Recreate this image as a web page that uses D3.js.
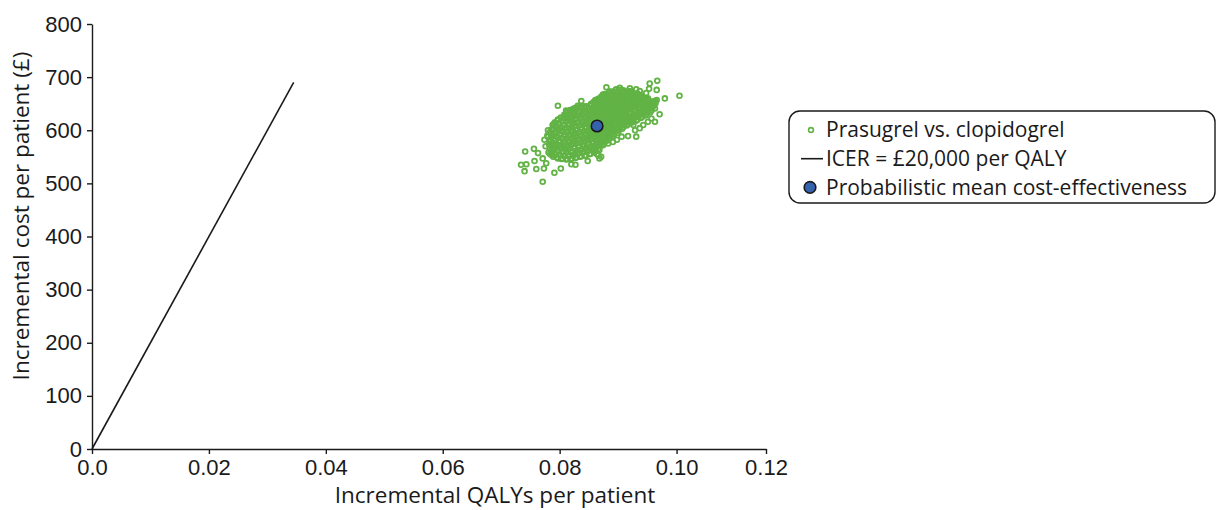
<!DOCTYPE html>
<html>
<head>
<meta charset="utf-8">
<script src="https://cdn.jsdelivr.net/npm/d3@7"></script>
<style>
  html, body { margin: 0; padding: 0; background: #ffffff; }
  svg { display: block; font-family: "Open Sans", "Noto Sans", sans-serif; }
  .axis text { font-size: 22px; fill: #1a1a1a; }
  .axis path, .axis line { stroke: #1a1a1a; stroke-width: 1.4; }
</style>
</head>
<body>
<svg id="chart" width="1217" height="510"></svg>
<script>
// Axis ticks and their labels
const xTicks = [0, 0.02, 0.04, 0.06, 0.08, 0.10, 0.1153];
const xTickLabels = ["0.0", "0.02", "0.04", "0.06", "0.08", "0.10", "0.12"];
const yTicks = [0, 100, 200, 300, 400, 500, 600, 700, 800];

// Willingness-to-pay threshold (£ per QALY) and the QALY range of its line
const wtp = 20000;
const icerQaly = [0, 0.0345];

// Probabilistic mean of the simulations: [incremental QALYs, incremental cost £]
const meanPoint = [0.0864, 608];

// Simulated incremental QALYs and costs, prasugrel vs. clopidogrel
const simulations = [
  [0.0781,558],[0.0783,565],[0.0782,573],[0.0784,579],[0.0780,588],[0.0783,596],
  [0.0787,553],[0.0785,561],[0.0788,566],[0.0786,574],[0.0784,580],[0.0785,587],[0.0787,593],[0.0786,601],
  [0.0789,550],[0.0791,557],[0.0790,563],[0.0792,570],[0.0788,577],[0.0791,582],[0.0789,590],[0.0792,596],[0.0790,603],[0.0788,610],
  [0.0795,549],[0.0793,555],[0.0796,562],[0.0794,569],[0.0792,574],[0.0793,582],[0.0795,588],[0.0794,595],[0.0796,601],[0.0793,608],[0.0792,615],
  [0.0797,547],[0.0799,554],[0.0798,560],[0.0800,567],[0.0796,573],[0.0799,580],[0.0797,586],[0.0800,593],[0.0798,600],[0.0796,606],[0.0799,613],[0.0797,620],
  [0.0803,546],[0.0801,553],[0.0804,559],[0.0802,566],[0.0800,572],[0.0801,579],[0.0803,586],[0.0802,592],[0.0804,598],[0.0801,605],[0.0800,611],[0.0803,618],[0.0802,624],
  [0.0805,547],[0.0807,552],[0.0806,560],[0.0808,565],[0.0804,571],[0.0807,578],[0.0805,584],[0.0808,591],[0.0806,597],[0.0804,604],[0.0807,610],[0.0805,617],[0.0806,623],[0.0808,629],
  [0.0811,545],[0.0809,551],[0.0812,558],[0.0810,564],[0.0808,571],[0.0809,577],[0.0811,584],[0.0810,589],[0.0812,596],[0.0809,603],[0.0808,609],[0.0811,616],[0.0810,622],[0.0809,628],[0.0812,632],
  [0.0813,546],[0.0815,553],[0.0814,559],[0.0816,565],[0.0812,572],[0.0815,578],[0.0813,585],[0.0816,591],[0.0814,598],[0.0812,604],[0.0815,611],[0.0813,617],[0.0814,624],[0.0816,630],[0.0813,635],
  [0.0819,545],[0.0817,552],[0.0820,558],[0.0818,566],[0.0816,571],[0.0817,578],[0.0819,584],[0.0818,590],[0.0820,597],[0.0817,603],[0.0816,610],[0.0819,616],[0.0818,622],[0.0817,629],[0.0820,634],[0.0818,638],
  [0.0821,547],[0.0823,553],[0.0822,560],[0.0824,566],[0.0820,573],[0.0823,579],[0.0821,586],[0.0824,592],[0.0822,599],[0.0820,605],[0.0823,612],[0.0821,618],[0.0822,625],[0.0824,631],[0.0821,637],[0.0823,640],
  [0.0827,548],[0.0825,554],[0.0828,561],[0.0826,567],[0.0824,574],[0.0825,580],[0.0827,587],[0.0826,594],[0.0828,600],[0.0825,607],[0.0824,613],[0.0827,620],[0.0826,626],[0.0825,633],[0.0828,639],[0.0826,642],
  [0.0829,549],[0.0831,556],[0.0830,562],[0.0832,569],[0.0828,575],[0.0831,582],[0.0829,588],[0.0832,595],[0.0830,601],[0.0828,608],[0.0831,614],[0.0829,621],[0.0830,627],[0.0832,634],[0.0829,640],[0.0831,643],
  [0.0835,550],[0.0833,557],[0.0836,563],[0.0834,570],[0.0832,576],[0.0833,583],[0.0835,589],[0.0834,596],[0.0836,602],[0.0833,609],[0.0832,615],[0.0835,622],[0.0834,628],[0.0833,635],[0.0836,641],
  [0.0837,551],[0.0839,558],[0.0838,564],[0.0840,571],[0.0836,577],[0.0839,584],[0.0837,590],[0.0840,597],[0.0838,603],[0.0836,610],[0.0839,616],[0.0837,623],[0.0838,629],[0.0840,636],[0.0837,642],[0.0839,645],
  [0.0843,552],[0.0841,559],[0.0844,566],[0.0842,572],[0.0840,579],[0.0841,585],[0.0843,592],[0.0842,598],[0.0844,605],[0.0841,611],[0.0840,618],[0.0843,624],[0.0842,631],[0.0841,637],[0.0844,644],
  [0.0845,553],[0.0847,560],[0.0846,567],[0.0848,573],[0.0844,580],[0.0847,586],[0.0845,593],[0.0848,599],[0.0846,606],[0.0844,612],[0.0847,619],[0.0845,625],[0.0846,632],[0.0848,638],[0.0845,645],
  [0.0851,555],[0.0849,562],[0.0852,568],[0.0850,575],[0.0848,581],[0.0849,588],[0.0851,594],[0.0850,601],[0.0852,607],[0.0849,614],[0.0848,620],[0.0851,627],[0.0850,633],[0.0849,640],[0.0852,646],
  [0.0853,556],[0.0855,563],[0.0854,570],[0.0856,576],[0.0852,583],[0.0855,589],[0.0853,596],[0.0856,602],[0.0854,609],[0.0852,615],[0.0855,622],[0.0853,628],[0.0854,635],[0.0856,641],[0.0853,648],
  [0.0859,558],[0.0857,565],[0.0860,571],[0.0858,578],[0.0856,584],[0.0857,591],[0.0859,597],[0.0858,604],[0.0860,610],[0.0857,617],[0.0856,623],[0.0859,630],[0.0858,636],[0.0857,643],[0.0860,649],[0.0858,653],
  [0.0861,561],[0.0863,568],[0.0862,574],[0.0864,581],[0.0860,587],[0.0863,594],[0.0861,600],[0.0864,607],[0.0862,613],[0.0860,620],[0.0863,626],[0.0861,633],[0.0862,639],[0.0864,646],[0.0861,652],[0.0863,656],
  [0.0867,565],[0.0865,571],[0.0868,578],[0.0866,584],[0.0864,591],[0.0865,597],[0.0867,604],[0.0866,610],[0.0868,617],[0.0865,623],[0.0864,630],[0.0867,636],[0.0866,643],[0.0865,649],[0.0868,655],[0.0866,659],
  [0.0869,570],[0.0871,576],[0.0870,583],[0.0872,589],[0.0868,596],[0.0871,602],[0.0869,609],[0.0872,615],[0.0870,622],[0.0868,628],[0.0871,635],[0.0869,641],[0.0870,648],[0.0872,654],[0.0869,660],[0.0871,663],
  [0.0875,573],[0.0873,580],[0.0876,586],[0.0874,593],[0.0872,599],[0.0873,606],[0.0875,612],[0.0874,619],[0.0876,625],[0.0873,632],[0.0872,638],[0.0875,645],[0.0874,651],[0.0873,658],[0.0876,664],
  [0.0877,577],[0.0879,583],[0.0878,590],[0.0880,596],[0.0876,603],[0.0879,609],[0.0877,616],[0.0880,622],[0.0878,629],[0.0876,635],[0.0879,642],[0.0877,648],[0.0878,655],[0.0880,661],[0.0877,668],
  [0.0883,581],[0.0881,587],[0.0884,594],[0.0882,600],[0.0880,607],[0.0881,613],[0.0883,620],[0.0882,626],[0.0884,633],[0.0881,639],[0.0880,646],[0.0883,652],[0.0882,659],[0.0881,665],[0.0884,671],
  [0.0885,585],[0.0887,591],[0.0886,598],[0.0888,604],[0.0884,611],[0.0887,617],[0.0885,624],[0.0888,630],[0.0886,637],[0.0884,643],[0.0887,650],[0.0885,656],[0.0886,663],[0.0888,669],[0.0885,673],
  [0.0891,589],[0.0889,595],[0.0892,602],[0.0890,608],[0.0888,615],[0.0889,621],[0.0891,628],[0.0890,634],[0.0892,641],[0.0889,647],[0.0888,654],[0.0891,660],[0.0890,667],[0.0889,673],
  [0.0893,592],[0.0895,598],[0.0894,605],[0.0896,611],[0.0892,618],[0.0895,624],[0.0893,631],[0.0896,637],[0.0894,644],[0.0892,650],[0.0895,657],[0.0893,663],[0.0894,670],[0.0896,676],
  [0.0899,595],[0.0897,601],[0.0900,608],[0.0898,614],[0.0896,621],[0.0897,627],[0.0899,634],[0.0898,640],[0.0900,647],[0.0897,653],[0.0896,660],[0.0899,666],[0.0898,672],[0.0897,677],
  [0.0901,599],[0.0903,605],[0.0902,612],[0.0904,618],[0.0900,625],[0.0903,631],[0.0901,638],[0.0904,644],[0.0902,651],[0.0900,657],[0.0903,664],[0.0901,670],[0.0902,676],
  [0.0907,603],[0.0905,609],[0.0908,616],[0.0906,622],[0.0904,629],[0.0905,635],[0.0907,642],[0.0906,648],[0.0908,655],[0.0905,661],[0.0904,668],[0.0907,674],
  [0.0909,606],[0.0911,612],[0.0910,619],[0.0912,625],[0.0908,632],[0.0911,638],[0.0909,645],[0.0912,651],[0.0910,658],[0.0908,664],[0.0911,671],[0.0909,675],
  [0.0915,609],[0.0913,615],[0.0916,622],[0.0914,628],[0.0912,635],[0.0913,641],[0.0915,648],[0.0914,654],[0.0916,661],[0.0913,667],[0.0912,673],
  [0.0917,612],[0.0919,618],[0.0918,625],[0.0920,631],[0.0916,638],[0.0919,644],[0.0917,651],[0.0920,657],[0.0918,664],[0.0916,670],[0.0919,674],
  [0.0923,614],[0.0921,620],[0.0924,627],[0.0922,633],[0.0920,640],[0.0921,646],[0.0923,653],[0.0922,659],[0.0924,666],[0.0921,672],
  [0.0925,616],[0.0927,622],[0.0926,629],[0.0928,635],[0.0924,642],[0.0927,648],[0.0925,655],[0.0928,661],[0.0926,668],[0.0924,672],
  [0.0931,618],[0.0929,624],[0.0932,631],[0.0930,637],[0.0928,644],[0.0929,650],[0.0931,657],[0.0930,663],[0.0932,669],
  [0.0933,620],[0.0935,626],[0.0934,633],[0.0936,639],[0.0932,646],[0.0935,652],[0.0933,659],[0.0936,665],[0.0934,668],
  [0.0939,623],[0.0937,629],[0.0940,636],[0.0938,642],[0.0936,649],[0.0937,655],[0.0939,661],[0.0938,666],
  [0.0941,625],[0.0943,631],[0.0942,638],[0.0944,644],[0.0940,651],[0.0943,657],[0.0941,663],
  [0.0947,628],[0.0945,634],[0.0948,641],[0.0946,647],[0.0944,654],[0.0945,660],
  [0.0949,631],[0.0951,637],[0.0950,644],[0.0952,650],[0.0948,656],[0.0951,660],
  [0.0955,634],[0.0953,640],[0.0956,647],[0.0954,653],[0.0952,657],
  [0.0957,637],[0.0959,643],[0.0958,649],[0.0960,654],
  [0.0963,641],[0.0961,647],[0.0964,651],
  // scattered runs around the rim of the cloud
  [0.0797,646],[0.0837,655],[0.0828,641],[0.0844,642],[0.0861,657],[0.0797,619],[0.0790,612],
  [0.0774,582],[0.0741,560],[0.0756,565],[0.0763,557],[0.0734,535],[0.0743,536],[0.0740,523],
  [0.0757,542],[0.0760,527],[0.0771,547],[0.0777,538],[0.0773,528],[0.0771,503],[0.0791,520],
  [0.0802,528],[0.0820,536],[0.0827,535],[0.0848,542],[0.0864,555],[0.0868,547],
  [0.0880,681],[0.0920,679],[0.0937,674],[0.0954,688],[0.0967,693],[0.0953,678],[0.0966,676],
  [0.0980,660],[0.1005,665],[0.0966,657],[0.0971,630],[0.0957,622],[0.0963,616],[0.0951,616],
  [0.0943,610],[0.0937,604],[0.0926,610],[0.0929,600],[0.0931,588],[0.0917,589],[0.0906,588],
  [0.0898,582],[0.0891,578],[0.0883,575],[0.0874,572],[0.0868,563],[0.0871,550],[0.0866,553],
  [0.0811,637],[0.0831,646],[0.0854,650],[0.0874,667],[0.0903,680],[0.0931,677],[0.0948,670],[0.0963,655],
  [0.0779,590],[0.0776,570],[0.0784,555],[0.0780,600]
];

const legendItems = [
  "Prasugrel vs. clopidogrel",
  "ICER = £20,000 per QALY",
  "Probabilistic mean cost-effectiveness"
];

const green = "#62b346";
const blue = "#3562ae";
const ink = "#1a1a1a";

const svg = d3.select("#chart");

const x = d3.scaleLinear().domain([0, 0.1153]).range([92, 766]);
const y = d3.scaleLinear().domain([0, 800]).range([449, 24]);

// Axes
svg.append("g")
  .attr("class", "axis")
  .attr("transform", `translate(0,${y(0)})`)
  .call(d3.axisBottom(x).tickValues(xTicks).tickSize(5).tickSizeOuter(0).tickPadding(5)
    .tickFormat((d, i) => xTickLabels[i]));

svg.append("g")
  .attr("class", "axis")
  .attr("transform", `translate(${x(0)},0)`)
  .call(d3.axisLeft(y).tickValues(yTicks).tickSize(5).tickSizeOuter(0).tickPadding(5)
    .tickFormat(d3.format("d")));

// Axis titles
svg.append("text")
  .attr("x", 495)
  .attr("y", 503)
  .attr("text-anchor", "middle")
  .style("font-size", "22.5px")
  .style("fill", ink)
  .text("Incremental QALYs per patient");

svg.append("text")
  .attr("transform", "translate(29,216) rotate(-90)")
  .attr("text-anchor", "middle")
  .style("font-size", "22.5px")
  .style("fill", ink)
  .text("Incremental cost per patient (£)");

// Simulated pairs
svg.append("g")
  .selectAll("circle")
  .data(simulations)
  .join("circle")
  .attr("cx", d => x(d[0]))
  .attr("cy", d => y(d[1]))
  .attr("r", 2.4)
  .attr("fill", "none")
  .attr("stroke", green)
  .attr("stroke-width", 1.8);

// ICER threshold line
const line = d3.line().x(d => x(d)).y(d => y(wtp * d));
svg.append("path")
  .datum(icerQaly)
  .attr("d", line)
  .attr("fill", "none")
  .attr("stroke", ink)
  .attr("stroke-width", 1.6);

// Probabilistic mean
svg.append("circle")
  .attr("cx", x(meanPoint[0]))
  .attr("cy", y(meanPoint[1]))
  .attr("r", 5.8)
  .attr("fill", blue)
  .attr("stroke", ink)
  .attr("stroke-width", 1.6);

// Legend
const legend = svg.append("g");
legend.append("rect")
  .attr("x", 789).attr("y", 111)
  .attr("width", 426).attr("height", 92)
  .attr("rx", 11).attr("ry", 11)
  .attr("fill", "#ffffff")
  .attr("stroke", ink)
  .attr("stroke-width", 1.4);

const rowY = [130, 158.7, 187.4];
legend.append("circle")
  .attr("cx", 811).attr("cy", rowY[0]).attr("r", 2.4)
  .attr("fill", "none").attr("stroke", green).attr("stroke-width", 1.6);
legend.append("line")
  .attr("x1", 801).attr("x2", 823).attr("y1", rowY[1]).attr("y2", rowY[1])
  .attr("stroke", ink).attr("stroke-width", 1.6);
legend.append("circle")
  .attr("cx", 810).attr("cy", rowY[2]).attr("r", 5.8)
  .attr("fill", blue).attr("stroke", ink).attr("stroke-width", 1.6);

legend.selectAll("text.item")
  .data(legendItems)
  .join("text")
  .attr("class", "item")
  .attr("x", 826)
  .attr("y", (d, i) => rowY[i])
  .attr("dy", "0.35em")
  .style("font-size", "21px")
  .style("fill", ink)
  .text(d => d);
</script>
</body>
</html>
